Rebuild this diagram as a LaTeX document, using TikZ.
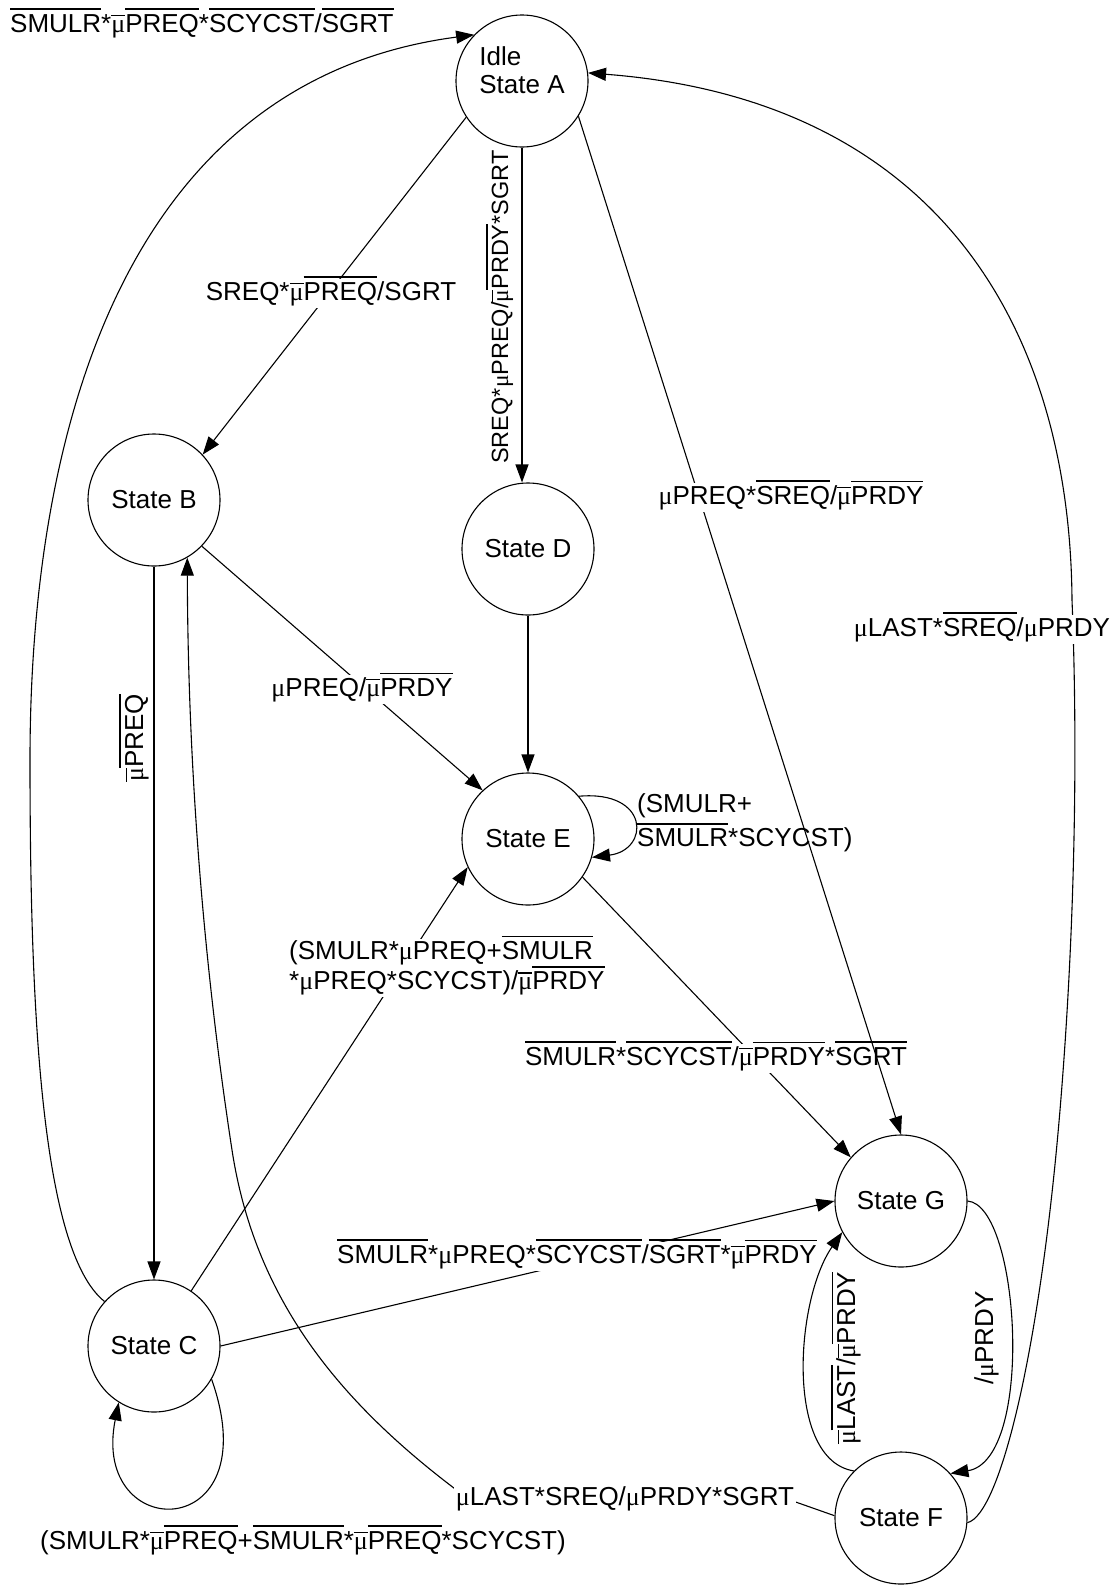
\documentclass[tikz,border=0pt]{standalone}
\usepackage{fontspec}
\setmainfont{Liberation Sans}
\newfontfamily\mufont{Liberation Serif}
\usetikzlibrary{arrows.meta}

% micro sign in a serif face
\newcommand\um{{\mufont μ}}
% negated signal: a bar over the given text that takes no vertical space
\newsavebox\ovbox
\newcommand\ovl[1]{\sbox\ovbox{#1}\rlap{\smash{\rule[\dimexpr\ht\ovbox+4pt\relax]{\wd\ovbox}{1.5pt}}}\usebox\ovbox}

\begin{document}
\begin{tikzpicture}[x=1pt,y=-1pt,
  font=\fontsize{26}{28}\selectfont,
  state/.style={circle,draw,line width=1.1pt,minimum size=132pt,inner sep=0pt},
  edge/.style={line width=1.1pt,-{Triangle[length=18pt,width=13pt]}},
  lbl/.style={fill=white,inner sep=2pt},
  txt/.style={inner sep=0pt},
  vert/.style={inner sep=0pt,rotate=90,anchor=base}]
\useasboundingbox (0,0) rectangle (1119,1585);

% states
\node[state] (A) at (522,81) {\raisebox{1pt}[0pt][0pt]{\begin{tabular}{@{}l@{}}Idle\\State A\end{tabular}}};
\node[state] (B) at (154,500) {State B};
\node[state] (D) at (528,549) {State D};
\node[state] (E) at (528,839) {State E};
\node[state] (G) at (901,1201) {State G};
\node[state] (C) at (154,1346) {State C};
\node[state] (F) at (901,1518) {State F};

% transitions with labels that break their line
\draw[edge] (A.213) -- (B.43);
\node[lbl,anchor=base] (lAB) at (331,300) {SREQ*\ovl{\um}\ovl{PREQ}/SGRT};

\draw[edge] (B.-44) -- (E.133);
\node[lbl,anchor=base] (lBE) at (362,696) {\um PREQ/\ovl{\um}\ovl{PRDY}};

\draw[edge] (E.-35) -- (G.139);
\node[lbl,anchor=base] (lEG) at (716,1065) {\ovl{SMULR}*\ovl{SCYCST}/\ovl{\um}\ovl{PRDY}*\ovl{SGRT}};

\draw[edge] (C.56) -- (E.205);
\node[lbl,anchor=west,align=left] (lCE) at (287,968)
  {(SMULR*\um PREQ+\ovl{SMULR}\\[2pt]*\um PREQ*SCYCST)/\ovl{\um}\ovl{PRDY}};

\draw[edge] (C.east) -- (G.west);
\node[lbl,anchor=base] (lCG) at (577,1263) {\ovl{SMULR}*\um PREQ*\ovl{SCYCST}/\ovl{SGRT}*\ovl{\um}\ovl{PRDY}};

\draw[edge] (F.178) -- (790,1500) -- (470,1500)
  .. controls (340,1405) and (255,1300) .. (232,1150)
  .. controls (209,1000) and (188,800) .. (B.-60);
\node[lbl,anchor=base] (lFB) at (625,1505) {\um LAST*SREQ/\um PRDY*SGRT};

\draw[edge] (F.-4) .. controls (1000,1515) and (1040,1350) .. (1060,1110)
  .. controls (1075,930) and (1078,750) .. (1072,600)
  .. controls (1070,330) and (940,100) .. (A.7);
\node[lbl,anchor=base] (lFA) at (982,636) {\um LAST*\ovl{SREQ}/\um PRDY};

% remaining transitions
\draw[edge] (A.south) -- (A.south |- D.north);
\node[vert,font=\fontsize{23.5}{28}\selectfont] (lAD) at (508,307) {SREQ*\um PREQ/\ovl{\um}\ovl{PRDY}*SGRT};

\draw[edge] (D.south) -- (E.north);

\draw[edge] (B.south) -- (C.north);
\node[vert] (lBC) at (143,738) {\ovl{\um}\ovl{PREQ}};

\draw[edge] (C.138) .. controls (40,1250) and (30,1000) .. (30,760)
  .. controls (30,420) and (130,80) .. (A.136);
\node[txt,anchor=base west] (lCA) at (10,32) {\ovl{SMULR}*\ovl{\um}\ovl{PREQ}*\ovl{SCYCST}/\ovl{SGRT}};

\draw[edge] (E.40) .. controls (650,790) and (650,850) .. (E.-16);
\node[txt,anchor=west,align=left] (lEE) at (637,823) {(SMULR+\\[6pt]\ovl{SMULR}*SCYCST)};

\draw[edge] (C.-30) .. controls (270,1545) and (90,1545) .. (C.-122);
\node[txt,anchor=base] (lCC) at (303,1549) {(SMULR*\ovl{\um}\ovl{PREQ}+\ovl{SMULR}*\ovl{\um}\ovl{PREQ}*SCYCST)};

\draw[edge] (F.135) .. controls (785,1460) and (795,1300) .. (G.208);
\node[vert] (lFG) at (855,1358) {\ovl{\um}\ovl{LAST}/\ovl{\um}\ovl{PRDY}};

\draw[edge] (G.0) .. controls (1020,1205) and (1035,1460) .. (F.42);
\node[vert] (lGF) at (993,1338) {/\um PRDY};

\draw[edge] (A.-32) -- (G.north);
\node[lbl,anchor=base] (lAG) at (791,504) {\um PREQ*\ovl{SREQ}/\ovl{\um}\ovl{PRDY}};
\end{tikzpicture}
\end{document}
